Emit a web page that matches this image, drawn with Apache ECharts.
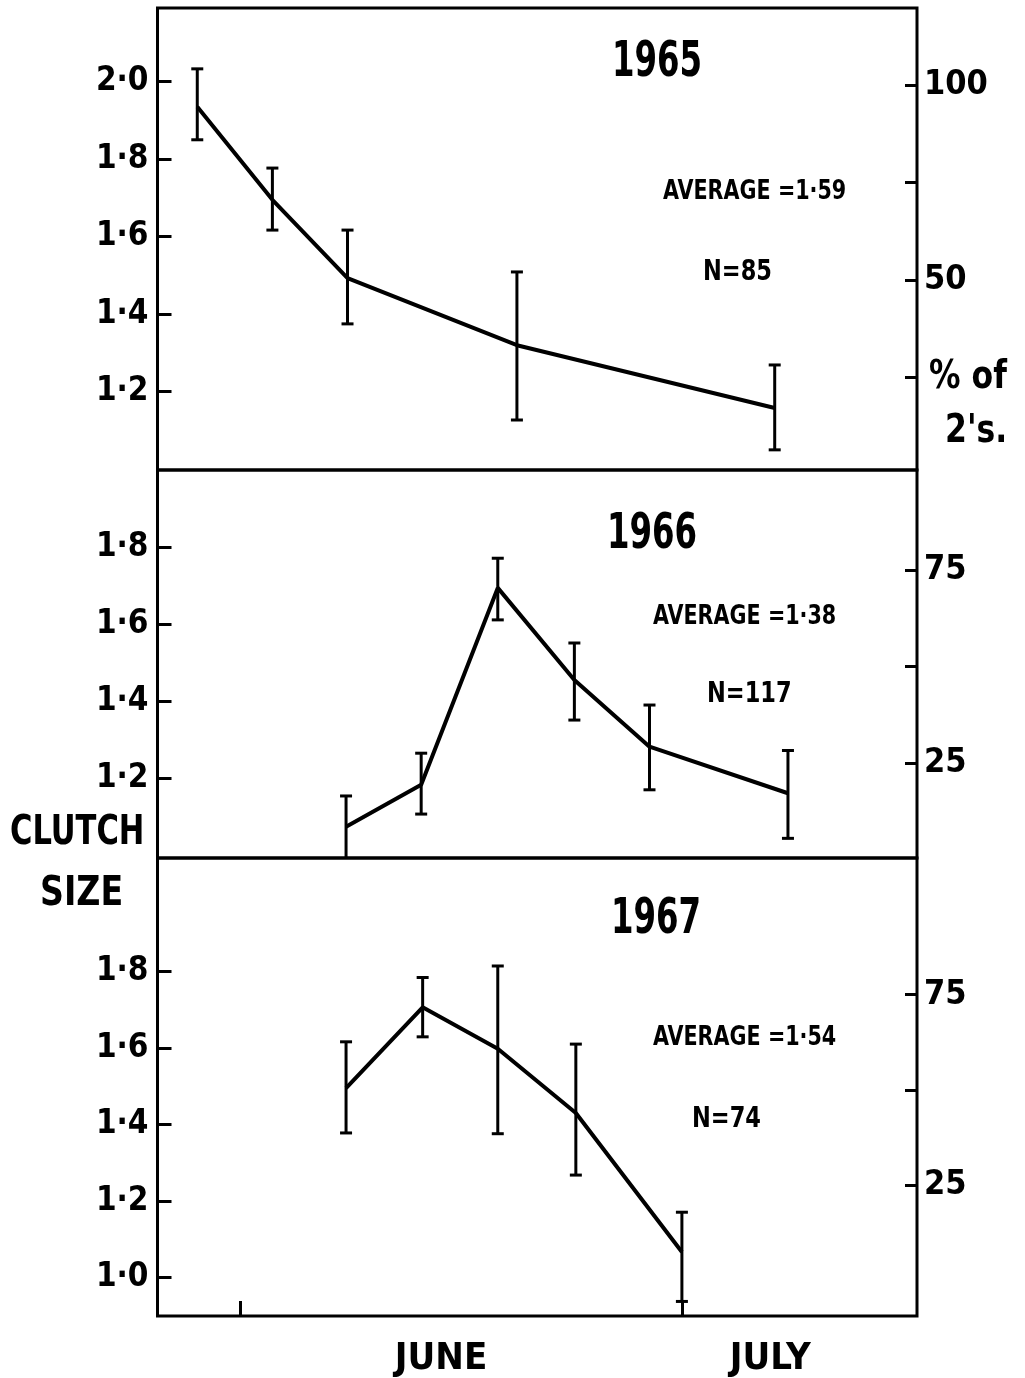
<!DOCTYPE html>
<html>
<head>
<meta charset="utf-8">
<script src="https://cdn.jsdelivr.net/npm/echarts@6/dist/echarts.min.js"></script>
<style>
html, body { margin: 0; padding: 0; background: #fff; }
#chart { width: 1025px; height: 1378px; }
</style>
</head>
<body>
<div id="chart"></div>
<script>
// x = days counted from 1 June (1 July = 30)
const days1965 = [-2.9, 2.2, 7.3, 18.8, 36.3];
const mean1965 = [1.935, 1.695, 1.493, 1.32, 1.158];
const low1965  = [1.85, 1.617, 1.375, 1.127, 1.05];
const high1965 = [2.033, 1.777, 1.617, 1.509, 1.269];

const days1966 = [7.2, 12.3, 17.5, 22.7, 27.8, 37.2];
const mean1966 = [1.074, 1.183, 1.694, 1.455, 1.282, 1.161];
const low1966  = [0.985, 1.107, 1.611, 1.351, 1.17, 1.044];
const high1966 = [1.154, 1.265, 1.771, 1.551, 1.39, 1.272];

const days1967 = [7.2, 12.4, 17.5, 22.8, 30.0];
const mean1967 = [1.495, 1.706, 1.598, 1.43, 1.067];
const low1967  = [1.378, 1.629, 1.376, 1.268, 0.938];
const high1967 = [1.616, 1.784, 1.814, 1.61, 1.171];

const leftTicks = [[1.2, 1.4, 1.6, 1.8, 2.0], [1.2, 1.4, 1.6, 1.8], [1.0, 1.2, 1.4, 1.6, 1.8]];
const rightTicks = [[25, 50, 75, 100], [25, 50, 75], [25, 50, 75]];
const rightLabels = [[100, 50], [75, 25], [75, 25]];
const monthTicks = [0, 30];
const monthLabelPos = [13.65, 36];
const monthNames = ['JUNE', 'JULY'];

const FONT = "'Liberation Sans Narrow', 'DejaVu Sans Condensed', 'Roboto Condensed', sans-serif";

const chart = echarts.init(document.getElementById('chart'));

const grids = [
  { left: 157.5, right: 108, top: 8, height: 462 },
  { left: 157.5, right: 108, top: 470, height: 388 },
  { left: 157.5, right: 108, top: 858, height: 462 }
].map(g => Object.assign(g, { show: true, borderColor: '#000', borderWidth: 3, backgroundColor: 'transparent' }));

const leftRange = [[0.998, 2.19], [0.993, 2.0], [0.9, 2.096]];
const rightRange = [[1, 120], [0.4, 100.9], [-9.4, 110.9]];

const xAxes = [0, 1, 2].map(i => ({
  type: 'value', gridIndex: i, min: -5.6, max: 45.96,
  axisLine: { show: false, onZero: false }, splitLine: { show: false },
  axisTick: i === 2 ? { show: true, inside: true, length: 15, lineStyle: { color: '#000', width: 3 }, customValues: monthTicks } : { show: false },
  axisLabel: i === 2 ? {
    show: true, customValues: monthLabelPos, margin: 24,
    formatter: v => monthNames[monthLabelPos.indexOf(v)],
    color: '#000', fontFamily: FONT, fontWeight: 'bold', fontSize: 38
  } : { show: false }
}));

const yAxes = [];
[0, 1, 2].forEach(i => {
  yAxes.push({
    type: 'value', gridIndex: i, position: 'left',
    min: leftRange[i][0], max: leftRange[i][1],
    axisLine: { show: false, onZero: false }, splitLine: { show: false },
    axisTick: { show: true, inside: true, length: 14, lineStyle: { color: '#000', width: 3 }, customValues: leftTicks[i] },
    axisLabel: {
      customValues: leftTicks[i], margin: 9,
      formatter: v => v.toFixed(1).replace('.', '·'),
      color: '#000', fontFamily: FONT, fontWeight: 'bold', fontSize: 33
    }
  });
  yAxes.push({
    type: 'value', gridIndex: i, position: 'right',
    min: rightRange[i][0], max: rightRange[i][1],
    axisLine: { show: false, onZero: false }, splitLine: { show: false },
    axisTick: { show: true, inside: true, length: 12, lineStyle: { color: '#000', width: 3 }, customValues: rightTicks[i] },
    axisLabel: {
      customValues: rightLabels[i], margin: 7,
      color: '#000', fontFamily: FONT, fontWeight: 'bold', fontSize: 34
    }
  });
});

function lineSeries(i, xs, ys) {
  return {
    type: 'line', xAxisIndex: i, yAxisIndex: i * 2,
    data: xs.map((x, k) => [x, ys[k]]),
    showSymbol: false, symbol: 'none',
    lineStyle: { color: '#000', width: 4 },
    z: 3, silent: true
  };
}

function errorSeries(i, xs, lo, hi) {
  return {
    type: 'custom', xAxisIndex: i, yAxisIndex: i * 2,
    data: xs.map((x, k) => [x, lo[k], hi[k]]),
    encode: { x: 0, y: [1, 2] },
    clip: true, silent: true, z: 4,
    renderItem: (params, api) => {
      const x = api.value(0);
      const top = api.coord([x, api.value(2)]);
      const bot = api.coord([x, api.value(1)]);
      const w = 6;
      const st = { stroke: '#000', lineWidth: 3 };
      return {
        type: 'group',
        children: [
          { type: 'line', shape: { x1: top[0], y1: top[1], x2: bot[0], y2: bot[1] }, style: st },
          { type: 'line', shape: { x1: top[0] - w, y1: top[1], x2: top[0] + w, y2: top[1] }, style: st },
          { type: 'line', shape: { x1: bot[0] - w, y1: bot[1], x2: bot[0] + w, y2: bot[1] }, style: st }
        ]
      };
    }
  };
}

function txt(str, x, y, size, align, sy) {
  return {
    type: 'text', x: x, y: y, scaleY: sy || 1, silent: true,
    style: {
      text: str, fill: '#000', font: 'bold ' + size + 'px ' + FONT,
      textAlign: align || 'left', textVerticalAlign: 'middle'
    }
  };
}

chart.setOption({
  animation: false,
  backgroundColor: '#fff',
  grid: grids,
  xAxis: xAxes,
  yAxis: yAxes,
  series: [
    lineSeries(0, days1965, mean1965), errorSeries(0, days1965, low1965, high1965),
    lineSeries(1, days1966, mean1966), errorSeries(1, days1966, low1966, high1966),
    lineSeries(2, days1967, mean1967), errorSeries(2, days1967, low1967, high1967)
  ],
  graphic: [
    txt('1965', 657, 63, 36, 'center', 1.4),
    txt('AVERAGE =1·59', 663, 192, 23, 'left', 1.15),
    txt('N=85', 703, 273, 25, 'left', 1.1),
    txt('1966', 652, 535, 36, 'center', 1.4),
    txt('AVERAGE =1·38', 653, 617, 23, 'left', 1.15),
    txt('N=117', 707, 695, 25, 'left', 1.1),
    txt('1967', 656, 920, 36, 'center', 1.4),
    txt('AVERAGE =1·54', 653, 1038, 23, 'left', 1.15),
    txt('N=74', 692, 1120, 25, 'left', 1.1),
    txt('% of', 929, 378, 35, 'left', 1.1),
    txt("2's.", 945, 432, 35, 'left', 1.1),
    txt('CLUTCH', 10, 833, 34, 'left', 1.2),
    txt('SIZE', 40, 894, 37, 'left', 1.1)
  ]
});
</script>
</body>
</html>
